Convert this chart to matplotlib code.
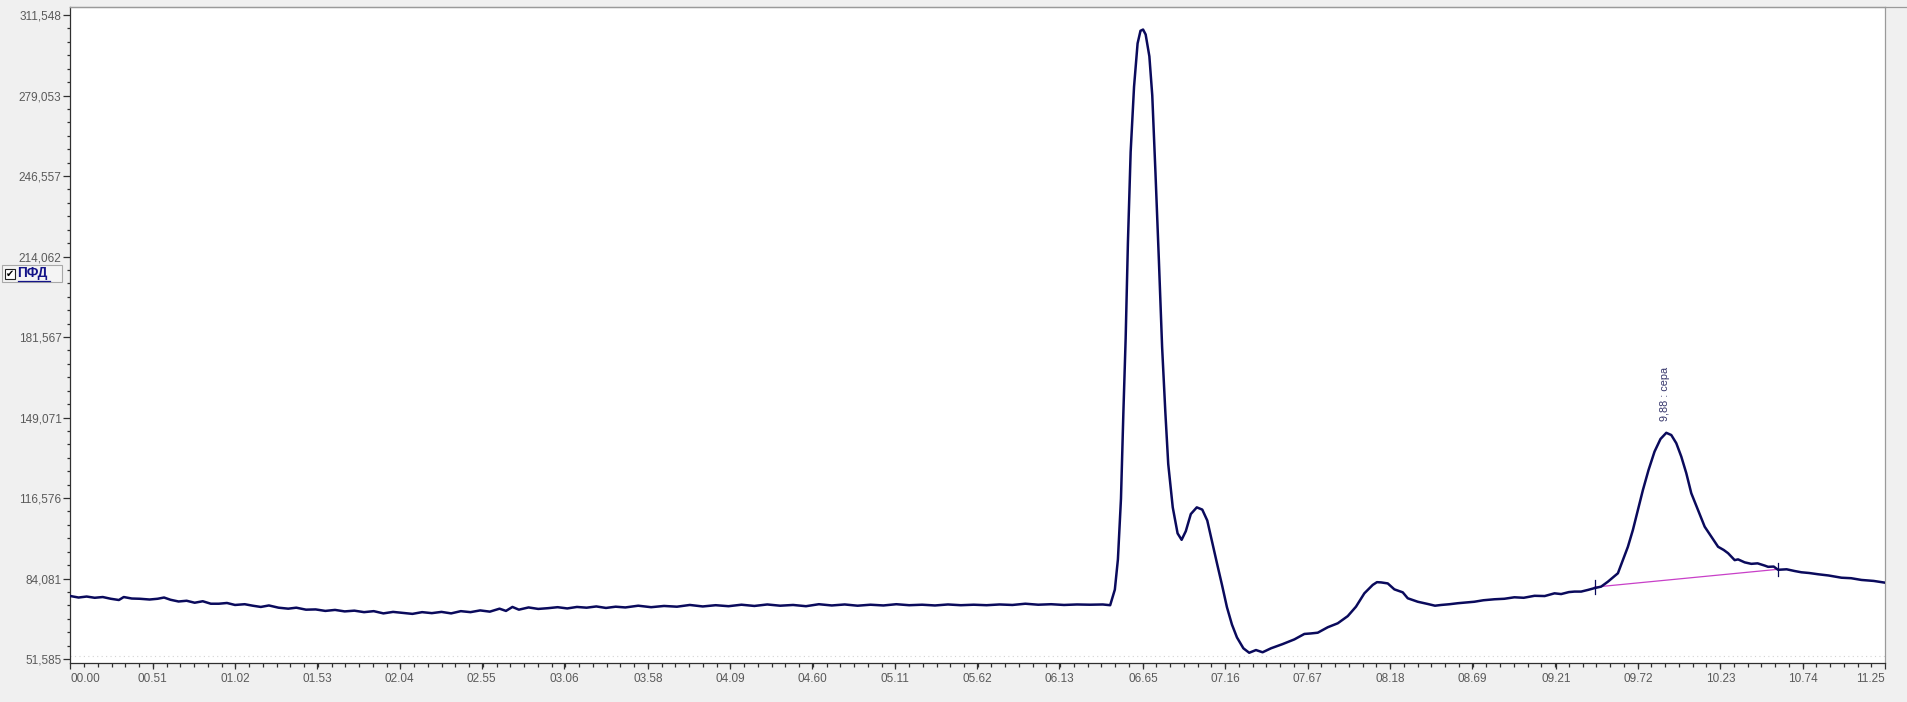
import numpy as np
import matplotlib
matplotlib.use('Agg')
import matplotlib.pyplot as plt
from matplotlib.patches import Rectangle
from matplotlib.lines import Line2D

# chromatogram trace (time in min, signal)
time = [0.00, 0.05, 0.10, 0.15, 0.20, 0.25, 0.30, 0.33, 0.38, 0.43, 0.49, 0.54, 0.58, 0.62,
        0.67, 0.72, 0.77, 0.82, 0.87, 0.92, 0.97, 1.02, 1.08, 1.13, 1.18, 1.23, 1.29, 1.35,
        1.40, 1.46, 1.52, 1.58, 1.64, 1.70, 1.76, 1.82, 1.88, 1.94, 2.00, 2.06, 2.12, 2.18,
        2.24, 2.30, 2.36, 2.42, 2.48, 2.54, 2.60, 2.66, 2.70, 2.74, 2.78, 2.84, 2.90, 2.96,
        3.02, 3.08, 3.14, 3.20, 3.26, 3.32, 3.38, 3.44, 3.52, 3.60, 3.68, 3.76, 3.84, 3.92,
        4.00, 4.08, 4.16, 4.24, 4.32, 4.40, 4.48, 4.56, 4.64, 4.72, 4.80, 4.88, 4.96, 5.04,
        5.12, 5.20, 5.28, 5.36, 5.44, 5.52, 5.60, 5.68, 5.76, 5.84, 5.92, 6.00, 6.08, 6.16,
        6.24, 6.32, 6.40, 6.446,
        6.475, 6.494, 6.513, 6.528, 6.542, 6.556, 6.573, 6.594, 6.616, 6.634, 6.650, 6.666,
        6.689, 6.707, 6.727, 6.748, 6.768, 6.788, 6.806, 6.834, 6.864, 6.889, 6.915, 6.946,
        6.983, 7.017, 7.048, 7.078, 7.109, 7.140, 7.170, 7.201, 7.232, 7.272, 7.308, 7.350,
        7.391, 7.443, 7.515, 7.588, 7.650, 7.690, 7.733, 7.795, 7.857, 7.919, 7.970, 8.022,
        8.074, 8.100, 8.126, 8.167, 8.208, 8.260, 8.291, 8.353, 8.415, 8.460, 8.498, 8.550,
        8.601, 8.650, 8.704, 8.760, 8.829, 8.890, 8.952, 9.010, 9.077, 9.140, 9.201, 9.242,
        9.290, 9.325, 9.366, 9.410, 9.449, 9.490, 9.532, 9.594, 9.625, 9.656, 9.687, 9.718,
        9.749, 9.784, 9.821, 9.858, 9.894, 9.925, 9.956, 9.987, 10.018, 10.049, 10.091,
        10.132, 10.173, 10.215, 10.250, 10.277, 10.318, 10.339, 10.380, 10.421, 10.460,
        10.504, 10.525, 10.560, 10.587, 10.640, 10.690, 10.731, 10.780, 10.835, 10.900,
        10.980, 11.040, 11.104, 11.180, 11.250]
signal = [77.0, 76.4, 76.8, 76.3, 76.6, 75.9, 75.4, 76.6, 76.0, 75.9, 75.6, 75.9, 76.4, 75.5,
          74.8, 75.1, 74.3, 74.9, 73.9, 73.9, 74.2, 73.4, 73.7, 73.1, 72.6, 73.2, 72.3, 71.9,
          72.3, 71.5, 71.6, 71.0, 71.4, 70.8, 71.1, 70.5, 70.9, 70.0, 70.6, 70.2, 69.8, 70.5,
          70.1, 70.6, 70.0, 70.9, 70.5, 71.2, 70.7, 71.9, 71.0, 72.6, 71.5, 72.4, 71.8, 72.1,
          72.5, 72.0, 72.6, 72.3, 72.8, 72.2, 72.7, 72.4, 73.1, 72.5, 73.0, 72.7, 73.4, 72.8,
          73.3, 72.9, 73.5, 73.0, 73.6, 73.1, 73.4, 72.9, 73.7, 73.2, 73.6, 73.1, 73.5, 73.2,
          73.7, 73.3, 73.5, 73.2, 73.6, 73.3, 73.5, 73.3, 73.6, 73.4, 73.9, 73.5, 73.7, 73.4,
          73.6, 73.5, 73.6, 73.3,
          79.6, 91.8, 116.3, 151.3, 181.0, 219.6, 256.3, 282.6, 300.1, 305.2, 305.7, 303.7,
          294.9, 279.1, 247.6, 212.6, 177.6, 151.3, 130.3, 112.8, 102.3, 99.7, 103.2, 110.1,
          112.8, 111.9, 107.5, 98.8, 90.0, 81.3, 72.5, 65.5, 60.3, 55.9, 54.1, 55.2,
          54.3, 55.9, 57.6, 59.5, 61.7, 61.9, 62.2, 64.4, 66.0, 68.9, 72.7, 78.1,
          81.5, 82.6, 82.5, 82.1, 79.7, 78.5, 76.1, 74.7, 73.8, 73.1, 73.4, 73.7,
          74.1, 74.4, 74.7, 75.3, 75.7, 75.9, 76.5, 76.3, 77.1, 77.0, 78.1, 77.8,
          78.6, 78.8, 78.8, 79.5, 80.2, 80.8, 82.8, 86.2, 91.5, 96.9, 103.7, 111.7,
          119.8, 127.9, 135.3, 140.4, 142.9, 142.0, 138.7, 133.3, 126.6, 118.5, 111.7,
          105.0, 101.0, 96.9, 95.6, 94.3, 91.5, 91.8, 90.6, 90.0, 90.2,
          89.3, 88.8, 88.9, 87.6, 87.8, 87.1, 86.6, 86.3, 85.8, 85.3,
          84.4, 84.2, 83.5, 83.1, 82.4]

# integration baseline of the labelled peak
base_t = [9.449, 10.587]
base_v = [80.6, 87.8]
peak_t = 9.885
peak_label = '9,88 : сера'

ytick_vals = [51.585, 84.081, 116.576, 149.071, 181.567, 214.062, 246.557, 279.053, 311.548]
ytick_lbls = ['51,585', '84,081', '116,576', '149,071', '181,567', '214,062', '246,557',
              '279,053', '311,548']
xtick_lbls = ['00.00', '00.51', '01.02', '01.53', '02.04', '02.55', '03.06', '03.58', '04.09',
              '04.60', '05.11', '05.62', '06.13', '06.65', '07.16', '07.67', '08.18', '08.69',
              '09.21', '09.72', '10.23', '10.74', '11.25']

W, H = 1908, 702
tick_font = ['Liberation Sans', 'DejaVu Sans']

fig = plt.figure(figsize=(W / 100, H / 100), dpi=100, facecolor='#f0f0f0')
ax = fig.add_axes([70.5 / W, 1 - 663 / H, (1885 - 70.5) / W, (663 - 7) / H])
ax.set_facecolor('white')

ax.plot(time, signal, color='#0a0a5c', lw=1.8, zorder=3)

# baseline + start/end markers
ax.plot(base_t, base_v, color='#c840c8', lw=0.9, zorder=2)
for t, v in zip(base_t, base_v):
    ax.plot([t, t], [v - 2.7, v + 2.7], color='#0a0a5c', lw=0.9, zorder=4)

ax.text(peak_t, 147.5, peak_label, rotation=90, ha='center', va='bottom',
        fontsize=7.8, color='#34346a', family=tick_font)

# faint dotted line near the bottom
ax.axhline(52.6, color='#d4d4d4', lw=0.8, ls=(0, (1, 3)), zorder=1)

ax.set_xlim(0, 11.25)
ax.set_ylim(49.97, 314.8)

xt = [float(s) for s in xtick_lbls]
ax.set_xticks(xt)
ax.set_xticklabels(xtick_lbls)
ax.set_xticks(np.linspace(0, 11.25, 22 * 6 + 1), minor=True)
ax.set_yticks(ytick_vals)
ax.set_yticklabels(ytick_lbls)
ax.set_yticks(np.linspace(ytick_vals[0], ytick_vals[-1], 8 * 6 + 1), minor=True)

ax.tick_params(axis='x', which='major', direction='out', length=4.5, width=0.9,
               color='#303030', pad=3, labelsize=8.5, labelcolor='#5a5a5a')
ax.tick_params(axis='x', which='minor', direction='out', length=3, width=0.9, color='#303030')
ax.tick_params(axis='y', which='major', direction='out', length=5, width=0.9,
               color='#303030', pad=1.5, labelsize=8.5, labelcolor='#5a5a5a')
ax.tick_params(axis='y', which='minor', direction='out', length=2.5, width=0.9, color='#303030')
for lbl in ax.get_xticklabels() + ax.get_yticklabels():
    lbl.set_family(tick_font)
xl = ax.get_xticklabels()
xl[0].set_horizontalalignment('left')
xl[-1].set_horizontalalignment('right')

ax.spines['left'].set_color('#303030')
ax.spines['bottom'].set_color('#303030')
ax.spines['top'].set_color('#9a9a9a')
ax.spines['right'].set_color('#9a9a9a')
for s in ax.spines.values():
    s.set_linewidth(0.9)

# top border line spans the whole figure
fig.add_artist(Line2D([70 / W, 1], [1 - 6.5 / H, 1 - 6.5 / H], color='#9a9a9a', lw=0.9))

# channel legend "ПФД" with a ticked box
fig.add_artist(Rectangle((2 / W, 1 - 282 / H), 60 / W, 17 / H, facecolor='#f4f4f4',
                         edgecolor='#a8a8a8', lw=0.8))
fig.add_artist(Rectangle((5 / W, 1 - 279 / H), 10 / W, 10 / H, facecolor='white',
                         edgecolor='#202020', lw=0.8))
fig.text(10 / W, 1 - 274 / H, '✔', fontsize=7, ha='center', va='center', color='black',
         family='DejaVu Sans')
fig.text(17.5 / W, 1 - 273.5 / H, 'ПФД', fontsize=9.8, weight='bold', color='#141488',
         ha='left', va='center', family=['Liberation Sans', 'DejaVu Sans'])
fig.add_artist(Line2D([17.5 / W, 50 / W], [1 - 280.5 / H, 1 - 280.5 / H], color='#141488', lw=0.9))

fig.savefig('out.png', dpi=100, facecolor=fig.get_facecolor())
